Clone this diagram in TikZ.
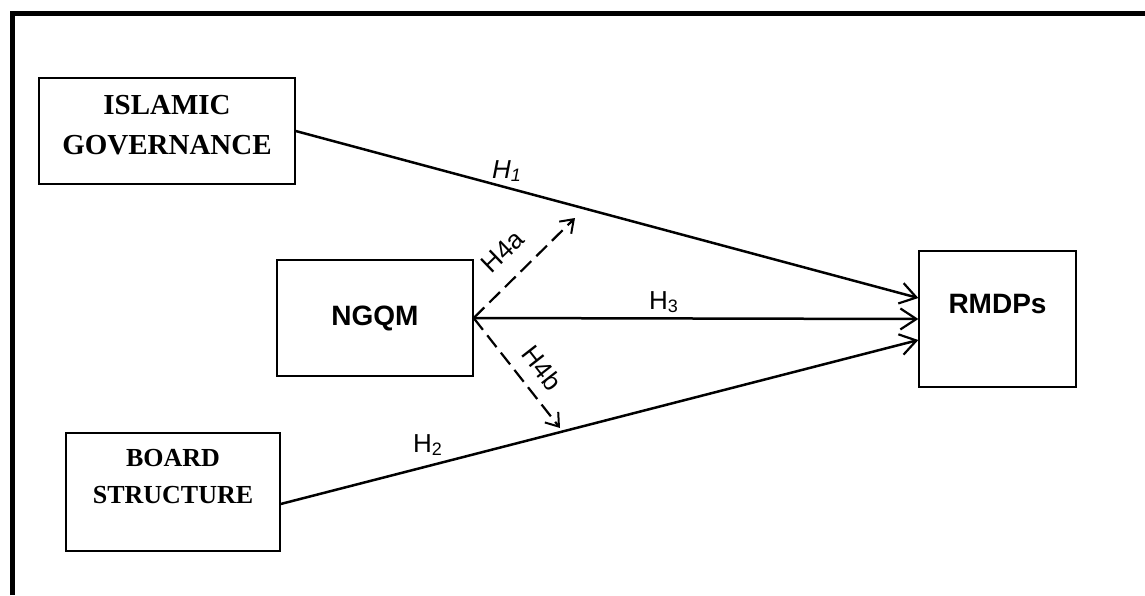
\documentclass[tikz,border=0pt]{standalone}
\usepackage{fontspec}
\setmainfont{Liberation Sans}
\newfontfamily\tnrfont{Liberation Serif}
\usetikzlibrary{arrows.meta}
\newcommand\subnum[1]{\raisebox{-3pt}{\fontsize{18}{18}\selectfont #1}}
\begin{document}
\begin{tikzpicture}[x=1pt,y=-1pt,
  box/.style={draw, line width=1.3pt, inner sep=0pt},
  serifA/.style={font=\tnrfont\bfseries\fontsize{29}{40}\selectfont, align=center, inner sep=0pt},
  serifB/.style={font=\tnrfont\bfseries\fontsize{26}{37}\selectfont, align=center, inner sep=0pt},
  sanslab/.style={font=\bfseries\fontsize{28}{30}\selectfont, inner sep=0pt},
  lab/.style={font=\fontsize{26}{28}\selectfont, inner sep=0pt},
  conn/.style={line width=2.5pt, -{Straight Barb[length=16pt,width=21pt,line width=2.2pt]}},
  dconn/.style={line width=2.2pt, dash pattern=on 15pt off 7pt, -{Straight Barb[length=12pt,width=17pt,line width=2pt]}}
]
\useasboundingbox (0,0) rectangle (1145,595);
% frame
\draw[line width=5pt, line join=miter] (12.5,595) -- (12.5,13.5) -- (1145,13.5);

% boxes
\node[box, minimum width=256pt, minimum height=106pt] (ig) at (167,131) {};
\node[serifA] (igt) at ([yshift=6pt]ig.center) {ISLAMIC\\GOVERNANCE};

\node[box, minimum width=196pt, minimum height=116pt] (ngqm) at (375,318) {};
\node[sanslab] (ngqmt) at (ngqm.center) {NGQM};

\node[box, minimum width=157pt, minimum height=136pt] (rmdps) at (997.5,319) {};
\node[sanslab] (rmdpst) at ([yshift=15pt]rmdps.center) {RMDPs};

\node[box, minimum width=214pt, minimum height=118pt] (bs) at (173,492) {};
\node[serifB] (bst) at ([yshift=15pt]bs.center) {BOARD\\STRUCTURE};

% connectors
\draw[conn] (ig.east) -- ([yshift=21pt]rmdps.west);
\draw[conn] (ngqm.east) -- (rmdps.west);
\draw[conn] ([yshift=-12pt]bs.east) -- ([yshift=-21pt]rmdps.west);
\coordinate (h4aend) at (575,218);
\coordinate (h4bend) at (560,428);
\draw[dconn] (ngqm.east) -- (h4aend);
\draw[dconn] (ngqm.east) -- (h4bend);

% labels
\node[lab, anchor=base west] (l1) at (492,178) {\itshape H\subnum{1}};
\node[lab, anchor=base west] (l3) at (649,309) {H\subnum{3}};
\node[lab, anchor=base west] (l2) at (413,452) {H\subnum{2}};
\node[lab, rotate=44] (l4a) at (503,252) {H4a};
\node[lab, rotate=-52] (l4b) at (542,368) {H4b};
\end{tikzpicture}
\end{document}
